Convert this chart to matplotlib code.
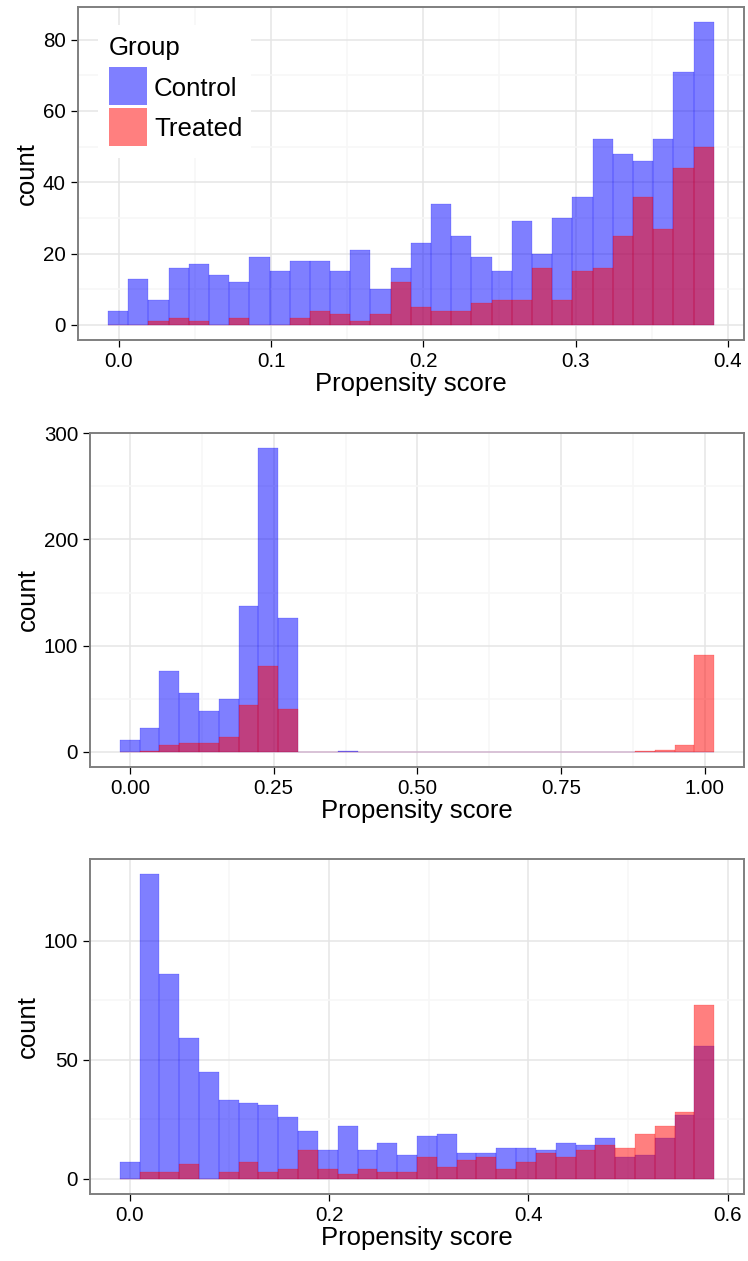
import numpy as np
import matplotlib
matplotlib.use('Agg')
import matplotlib.pyplot as plt
from matplotlib.patches import Rectangle

plt.rcParams['font.family'] = ['Liberation Sans', 'DejaVu Sans']

# histogram counts (30 bins per panel)
ctrl1 = [4, 13, 7, 16, 17, 14, 12, 19, 15, 18, 18, 15, 21, 10, 16,
         23, 34, 25, 19, 15, 29, 20, 30, 36, 52, 48, 46, 52, 71, 85]
trt1 = [0, 0, 1, 2, 1, 0, 2, 0, 0, 2, 4, 3, 1, 3, 12,
        5, 4, 4, 6, 7, 7, 16, 7, 15, 16, 25, 36, 27, 44, 50]
range1 = (-0.0072, 0.3908)

ctrl2 = [11, 22, 76, 55, 38, 50, 137, 286, 126, 0, 0, 1, 0, 0, 0,
         0, 0, 0, 0, 0, 0, 0, 0, 0, 0, 0, 0, 0, 0, 0]
trt2 = [0, 1, 6, 8, 8, 14, 44, 81, 40, 0, 0, 0, 0, 0, 0,
        0, 0, 0, 0, 0, 0, 0, 0, 0, 0, 0, 1, 2, 6, 91]
range2 = (-0.0179, 1.0165)

ctrl3 = [7, 128, 86, 59, 45, 33, 32, 31, 26, 20, 12, 22, 12, 15, 10,
         18, 19, 11, 11, 13, 13, 12, 15, 14, 17, 9, 10, 17, 27, 56]
trt3 = [0, 3, 3, 6, 0, 3, 7, 3, 4, 12, 4, 2, 4, 3, 3,
        9, 5, 8, 9, 4, 7, 11, 9, 12, 14, 13, 19, 22, 28, 73]
range3 = (-0.0100, 0.5866)

groups = ['Control', 'Treated']
colors = ['#0000ff', '#ff0000']

W, H = 748, 1261
fig = plt.figure(figsize=(W / 100, H / 100), dpi=100)


def add_panel(left, top, right, bottom):
    return fig.add_axes([left / W, 1 - bottom / H, (right - left) / W, (bottom - top) / H])


def draw(ax, ctrl, trt, rng, xticks, xlabels, yticks):
    edges = np.linspace(rng[0], rng[1], len(ctrl) + 1)
    centers = (edges[:-1] + edges[1:]) / 2
    w = edges[1] - edges[0]
    for vals, c in zip([ctrl, trt], colors):
        ax.bar(centers, vals, width=w, color=c, alpha=0.5,
               edgecolor=c, linewidth=0.25, zorder=3)
    span = rng[1] - rng[0]
    ax.set_xlim(rng[0] - 0.05 * span, rng[1] + 0.05 * span)
    ymax = max(max(ctrl), max(trt))
    ax.set_ylim(-0.05 * ymax, 1.05 * ymax)
    ax.set_xticks(xticks)
    ax.set_xticklabels(xlabels)
    ax.set_yticks(yticks)
    ax.set_xticks((np.array(xticks[:-1]) + np.array(xticks[1:])) / 2, minor=True)
    ax.set_yticks((np.array(yticks[:-1]) + np.array(yticks[1:])) / 2, minor=True)
    ax.grid(which='major', color='#e5e5e5', linewidth=1.1, zorder=0)
    ax.grid(which='minor', color='#f7f7f7', linewidth=1.1, zorder=0)
    ax.set_axisbelow(True)
    for s in ax.spines.values():
        s.set_color('#7f7f7f')
        s.set_linewidth(1.4)
    ax.tick_params(which='major', length=5, width=0.9, color='black',
                   labelsize=14.8, pad=3.5)
    ax.tick_params(which='minor', length=0)
    ax.set_xlabel('Propensity score', fontsize=18.5, labelpad=1)
    ax.set_ylabel('count', fontsize=18.5, labelpad=3)


ax1 = add_panel(77.7, 6.7, 744, 340)
draw(ax1, ctrl1, trt1, range1, [0.0, 0.1, 0.2, 0.3, 0.4],
     ['0.0', '0.1', '0.2', '0.3', '0.4'], [0, 20, 40, 60, 80])

ax2 = add_panel(90, 433, 744, 767)
draw(ax2, ctrl2, trt2, range2, [0.0, 0.25, 0.5, 0.75, 1.0],
     ['0.00', '0.25', '0.50', '0.75', '1.00'], [0, 100, 200, 300])

ax3 = add_panel(90, 859, 744, 1194)
draw(ax3, ctrl3, trt3, range3, [0.0, 0.2, 0.4, 0.6],
     ['0.0', '0.2', '0.4', '0.6'], [0, 50, 100])

# legend drawn inside the first panel
fig.add_artist(Rectangle((98 / W, 1 - 158 / H), (251 - 98) / W, (158 - 25) / H,
                         transform=fig.transFigure, facecolor='white',
                         edgecolor='none', zorder=5))
fig.text(108.5 / W, 1 - 54.5 / H, 'Group', fontsize=18.6, va='baseline', zorder=6)
for i, (g, c) in enumerate(zip(groups, colors)):
    top = 67 + i * 41
    fig.add_artist(Rectangle((109 / W, 1 - (top + 38) / H), 38 / W, 38 / H,
                             transform=fig.transFigure, facecolor=c, alpha=0.5,
                             edgecolor='none', zorder=6))
    fig.text(154 / W, 1 - (top + 28.5) / H, g, fontsize=18.6, va='baseline', zorder=6)

fig.savefig('out.png', dpi=100)
